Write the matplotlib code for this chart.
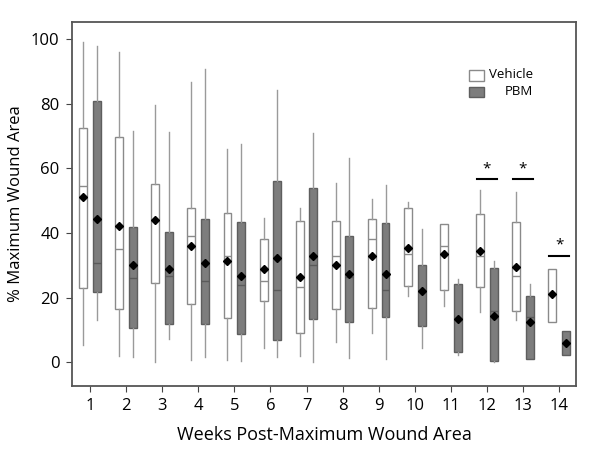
import matplotlib
matplotlib.use('Agg')
from matplotlib import pyplot as plt
from matplotlib.patches import Rectangle

plt.rcParams['font.family'] = ['Open Sans', 'DejaVu Sans']

weeks = list(range(1, 15))

# Vehicle group: whisker low, Q1, median, Q3, whisker high, mean
veh_lo  = [5.3, 2.0, 0.1, 0.6, 0.6, 4.5, 1.9, 6.1, 9.1, 20.6, 17.3, 15.6, 13.0, 12.4]
veh_q1  = [23.0, 16.4, 24.5, 18.0, 13.8, 19.0, 8.9, 16.4, 16.7, 23.6, 22.3, 23.3, 15.9, 12.4]
veh_med = [54.5, 35.0, 44.0, 39.1, 33.0, 25.0, 23.3, 32.9, 38.1, 33.6, 36.1, 33.0, 26.8, 21.0]
veh_q3  = [72.5, 69.6, 55.0, 47.8, 46.1, 38.1, 43.7, 43.7, 44.4, 47.6, 42.9, 45.7, 43.3, 28.9]
veh_hi  = [99.2, 95.9, 79.5, 86.7, 65.9, 44.7, 47.6, 55.5, 50.4, 49.6, 42.9, 53.3, 52.7, 28.9]
veh_mean = [51.2, 42.1, 43.9, 35.9, 31.2, 28.8, 26.5, 30.2, 32.8, 35.2, 33.4, 34.5, 29.3, 21.0]

# PBM group
pbm_lo  = [13.0, 1.5, 7.1, 1.6, 0.4, 1.6, 0.1, 1.3, 1.0, 4.4, 2.2, 0.0, 1.0, 2.1]
pbm_q1  = [21.6, 10.7, 11.9, 11.9, 8.8, 6.7, 13.3, 12.4, 14.0, 11.2, 3.0, 0.4, 1.0, 2.1]
pbm_med = [30.7, 25.9, 26.8, 25.2, 23.8, 22.2, 30.2, 26.4, 22.2, 22.1, 13.2, 15.8, 14.0, 5.8]
pbm_q3  = [80.9, 41.8, 40.2, 44.4, 43.4, 56.2, 53.8, 39.0, 43.2, 30.2, 24.1, 29.0, 20.4, 9.5]
pbm_hi  = [97.8, 71.6, 71.1, 90.6, 67.4, 84.3, 70.9, 63.3, 54.9, 41.1, 25.8, 31.4, 24.1, 9.5]
pbm_mean = [44.2, 30.2, 28.7, 30.6, 26.8, 32.3, 32.7, 27.4, 27.2, 22.1, 13.2, 14.2, 12.4, 5.8]

# significance bars (week, bar height)
sig_weeks = [12, 13, 14]
sig_heights = [56.6, 56.6, 32.8]


def make_stats(lo, q1, med, q3, hi, mean):
    return [dict(whislo=a, q1=b, med=c, q3=d, whishi=e, mean=f, fliers=[])
            for a, b, c, d, e, f in zip(lo, q1, med, q3, hi, mean)]


fig = plt.figure(figsize=(6, 4.51), dpi=100)
ax = fig.add_axes([72/600, 1 - 386/451, 504/600, 364/451])

off = 0.19
w = 0.22
mean_style = dict(marker='D', markerfacecolor='black', markeredgecolor='black', markersize=4.5)

ax.bxp(make_stats(veh_lo, veh_q1, veh_med, veh_q3, veh_hi, veh_mean),
       positions=[x - off for x in weeks], widths=w, patch_artist=True,
       showmeans=True, showcaps=False, showfliers=False,
       boxprops=dict(facecolor='white', edgecolor='#8a8a8a', linewidth=1.0),
       medianprops=dict(color='#8a8a8a', linewidth=1.0),
       whiskerprops=dict(color='#9a9a9a', linewidth=1.0),
       meanprops=mean_style)

ax.bxp(make_stats(pbm_lo, pbm_q1, pbm_med, pbm_q3, pbm_hi, pbm_mean),
       positions=[x + off for x in weeks], widths=w, patch_artist=True,
       showmeans=True, showcaps=False, showfliers=False,
       boxprops=dict(facecolor='#7d7d7d', edgecolor='#5e5e5e', linewidth=1.0),
       medianprops=dict(color='#5a5a5a', linewidth=1.0),
       whiskerprops=dict(color='#9a9a9a', linewidth=1.0),
       meanprops=mean_style)

for wk, h in zip(sig_weeks, sig_heights):
    ax.plot([wk - 0.27, wk + 0.27], [h, h], color='black', linewidth=1.5)
    ax.text(wk, h + 1.0, '*', ha='center', va='bottom', fontsize=11)

ax.set_xlim(0.5, 14.47)
ax.set_ylim(-7.4, 105.3)
ax.set_xticks(weeks)
ax.set_xticklabels([str(x) for x in weeks])
ax.set_yticks([0, 20, 40, 60, 80, 100])
ax.tick_params(labelsize=12, length=4, color='#444444', pad=5)
for sp in ax.spines.values():
    sp.set_color('#555555')
    sp.set_linewidth(1.3)

ax.set_xlabel('Weeks Post-Maximum Wound Area', fontsize=13, labelpad=8)
ax.set_ylabel('% Maximum Wound Area', fontsize=12)
ax.yaxis.set_label_coords(-0.095, 0.5)

# legend drawn by hand, text right-aligned
ax.add_patch(Rectangle((0.788, 0.839), 0.03, 0.03, transform=ax.transAxes,
                       facecolor='white', edgecolor='#8a8a8a', linewidth=1.0))
ax.add_patch(Rectangle((0.788, 0.795), 0.03, 0.026, transform=ax.transAxes,
                       facecolor='#7d7d7d', edgecolor='#5e5e5e', linewidth=1.0))
ax.text(0.915, 0.856, 'Vehicle', transform=ax.transAxes, ha='right', va='center', fontsize=9.5)
ax.text(0.915, 0.808, 'PBM', transform=ax.transAxes, ha='right', va='center', fontsize=9.5)

fig.savefig('out.png', dpi=100)
